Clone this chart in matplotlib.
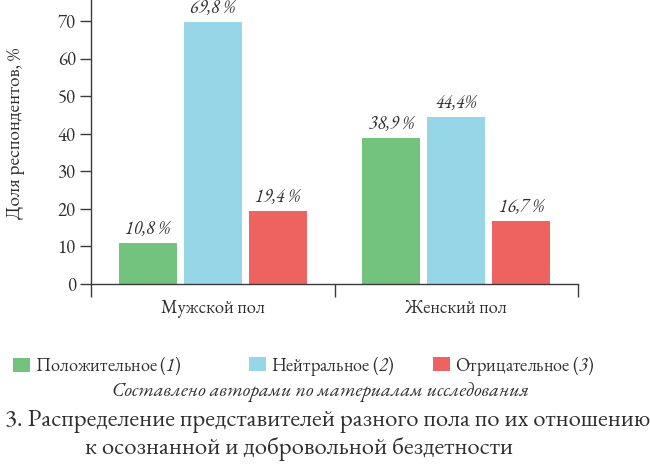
import matplotlib
matplotlib.use("Agg")
import matplotlib.pyplot as plt
import numpy as np

# ---- data ----
categories = ["Мужской пол", "Женский пол"]
series_names = ["Положительное", "Нейтральное", "Отрицательное"]
series_nums = ["1", "2", "3"]
positive = [10.8, 38.9]
neutral = [69.8, 44.4]
negative = [19.4, 16.7]
value_labels = [
    ["10,8 %", "38,9 %"],
    ["69,8 %", "44,4%"],
    ["19,4 %", "16,7 %"],
]
yticks = [0, 10, 20, 30, 40, 50, 60, 70]
ylabel = "Доля респондентов, %"
source_note = "Составлено авторами по материалам исследования"
title_line1 = "3. Распределение представителей разного пола по их отношению"
title_line2 = "к осознанной и добровольной бездетности"

colors = ["#73c27e", "#96d6e6", "#ee6260"]
text_color = "#2e2e2e"
axis_color = "#3a3a3a"

FAM = ["EB Garamond", "Cormorant Garamond", "Liberation Serif", "DejaVu Serif"]
plt.rcParams["font.family"] = FAM
plt.rcParams["mathtext.fontset"] = "custom"
plt.rcParams["mathtext.rm"] = "EB Garamond:italic"
plt.rcParams["mathtext.it"] = "EB Garamond:italic"

fig = plt.figure(figsize=(6.5, 4.7), dpi=100)
ax = fig.add_axes([91 / 650, 1 - 284 / 470, (578 - 91) / 650, 284 / 470])

x = np.arange(len(categories))
width = 0.24
offset = 0.267
series = [positive, neutral, negative]
containers = []
for i, vals in enumerate(series):
    c = ax.bar(x + (i - 1) * offset, vals, width, color=colors[i], linewidth=0)
    containers.append(c)
    for j, v in enumerate(vals):
        ax.annotate(value_labels[i][j], (x[j] + (i - 1) * offset, v),
                    xytext=(0, 6.5), textcoords="offset points",
                    ha="center", va="baseline", fontsize=13, style="italic",
                    color=text_color, family=FAM)

ax.set_xlim(-0.5, len(categories) - 0.5)
ax.set_ylim(0, 75.6)
ax.set_yticks(yticks)
ax.tick_params(axis="y", direction="out", length=8, width=1, color=axis_color,
               labelsize=13.5, labelcolor=text_color, pad=3)
ax.set_xticks(x)
ax.set_xticklabels(categories)
ax.tick_params(axis="x", which="major", length=0, labelsize=13.3,
               labelcolor=text_color, pad=11)
ax.set_xticks(np.arange(-0.5, len(categories), 1.0), minor=True)
ax.tick_params(axis="x", which="minor", direction="out", length=9.5, width=1,
               color=axis_color)
for s in ["top", "right"]:
    ax.spines[s].set_visible(False)
for s in ["left", "bottom"]:
    ax.spines[s].set_color(axis_color)
    ax.spines[s].set_linewidth(1)
ax.set_ylabel(ylabel, fontsize=13.8, color=text_color)
ax.yaxis.set_label_coords(-0.135, 0.53)

# legend entries
leg_x = [13 / 650, 249 / 650, 433 / 650]
leg_y = 1 - 366 / 470
for i in range(3):
    fig.legend(handles=[containers[i]],
               labels=[f"{series_names[i]} (${series_nums[i]}$)"],
               loc="center left", bbox_to_anchor=(leg_x[i], leg_y),
               frameon=False, fontsize=13.2, borderpad=0, borderaxespad=0,
               handlelength=0.93, handleheight=0.82, handletextpad=0.27,
               labelcolor=text_color)

fig.text(321 / 650, 1 - 392 / 470, source_note, ha="center", va="center",
         fontsize=14.3, style="italic", color=text_color)
fig.text(328 / 650, 1 - 421 / 470, title_line1, ha="center", va="center",
         fontsize=17.9, color=text_color)
fig.text(85 / 650, 1 - 449 / 470, title_line2, ha="left", va="center",
         fontsize=17.9, color=text_color)

fig.savefig("out.png", dpi=100)
